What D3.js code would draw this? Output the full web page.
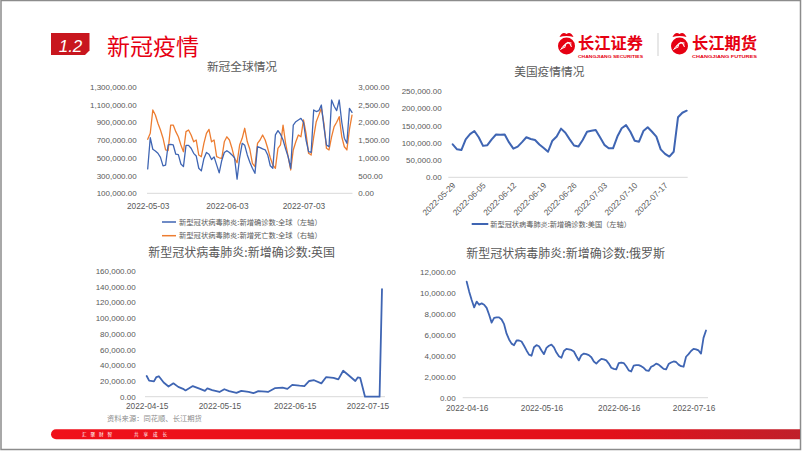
<!DOCTYPE html>
<html><head><meta charset="utf-8">
<script src="https://cdn.jsdelivr.net/npm/d3@7"></script>
<style>body{margin:0;background:#fff}svg{display:block}text{font-family:"Noto Sans CJK SC","Noto Sans",sans-serif}</style>
</head><body><svg id="c" width="802" height="451"></svg>
<script>
// ---------- DATA ----------
const globalStart = "2022-05-03", globalEnd = "2022-07-22";
const globalCases = [374,726,596,577,551,505,408,416,644,650,644,540,535,430,400,640,640,607,550,520,382,352,490,560,540,480,510,420,330,470,560,580,560,532,500,259,500,663,640,532,450,382,325,625,615,600,590,532,410,382,757,805,765,700,600,510,382,868,906,925,944,900,700,569,560,1038,1020,1030,1094,850,644,625,1150,1080,1030,1150,900,720,663,1057,1011].map(v => v * 1000);
const globalDeaths = [1520,1690,2344,2203,1970,1780,1550,1220,1200,1920,1920,1735,1590,1360,1170,1735,1780,1640,1450,1500,1077,1030,1407,1688,1800,1450,1500,1030,1000,985,1450,1590,1500,1266,985,860,1360,1548,1830,1450,1238,844,750,1407,1500,1640,1500,1266,1000,796,703,1266,1360,1920,1407,1030,656,1220,1450,1640,1590,2063,1688,1125,1077,1590,2015,2200,2392,1970,1266,1220,1590,1875,2000,2156,1590,1310,1220,1800,2200];
const globalXTicks = ["2022-05-03","2022-06-03","2022-07-03"];
const globalLeftTicks = [100000,300000,500000,700000,900000,1100000,1300000];
const globalRightTicks = [0,500,1000,1500,2000,2500,3000];
const globalLegend = ["新型冠状病毒肺炎:新增确诊数:全球（左轴）","新型冠状病毒肺炎:新增死亡数:全球（右轴）"];

const usStart = "2022-05-29", usEnd = "2022-07-22";
const usCases = [95.5,81,79,110,125,134,116,91,93,110,124,123,124,101,83,89,102,116,111,108,95,85,74,106,118,141,129,110,92,89,108,132,135,137,116,94,84,84,118,142,151,132,106,103,134,145,132,118,81,68,60,74,174,187,193].map(v => v * 1000);
const usXTicks = ["2022-05-29","2022-06-05","2022-06-12","2022-06-19","2022-06-26","2022-07-03","2022-07-10","2022-07-17"];
const usYTicks = [0,50000,100000,150000,200000,250000];
const usLegend = "新型冠状病毒肺炎:新增确诊数:美国（左轴）";

const ukDates = ["2022-04-15","2022-04-16","2022-04-18","2022-04-19","2022-04-20","2022-04-22","2022-04-24","2022-04-26","2022-04-28","2022-04-30","2022-05-01","2022-05-04","2022-05-07","2022-05-09","2022-05-10","2022-05-12","2022-05-15","2022-05-17","2022-05-19","2022-05-22","2022-05-24","2022-05-27","2022-05-29","2022-05-31","2022-06-03","2022-06-04","2022-06-07","2022-06-10","2022-06-12","2022-06-14","2022-06-17","2022-06-19","2022-06-21","2022-06-23","2022-06-26","2022-06-28","2022-07-01","2022-07-03","2022-07-05","2022-07-07","2022-07-10","2022-07-11","2022-07-12","2022-07-13","2022-07-14","2022-07-20","2022-07-21"];
const ukCases = [26300,20400,19500,25000,26000,18000,13000,17000,12500,10000,8000,13500,10000,7500,10500,8500,6000,9500,7000,4800,7500,6000,4500,7000,6500,6000,11000,11500,10000,15000,14000,13500,20000,21000,17000,25000,24000,22000,33000,28000,20000,24500,24000,12000,0,0,137000];
const ukXTicks = ["2022-04-15","2022-05-15","2022-06-15","2022-07-15"];
const ukYTicks = [0,20000,40000,60000,80000,100000,120000,140000,160000];
const ukTitle = "新型冠状病毒肺炎:新增确诊数:英国";

const ruStart = "2022-04-16", ruEnd = "2022-07-21";
const ruCases = [11050,10100,9300,8600,9150,8850,8980,8850,8550,7900,7150,7600,7650,7650,7450,7000,6100,5550,5150,5000,5450,5450,5350,4950,4500,4100,4000,4800,5000,4900,4500,4150,4750,4950,5050,4800,4300,3950,3800,4450,4650,4600,4550,4400,3950,3550,4050,4200,4150,4050,3850,3450,3250,3500,3700,3650,3550,3250,2850,2750,2700,3300,3350,3300,3000,2600,2500,3050,3100,3100,3000,2850,2600,2550,2950,3050,3250,3150,2950,2750,2700,3200,3350,3450,3400,3150,3000,2950,3900,4150,4450,4650,4600,4500,4200,5700,6400];
const ruXTicks = ["2022-04-16","2022-05-16","2022-06-16","2022-07-16"];
const ruYTicks = [0,2000,4000,6000,8000,10000,12000];
const ruTitle = "新型冠状病毒肺炎:新增确诊数:俄罗斯";

// ---------- HELPERS ----------
const svg = d3.select("#c");
const parse = d3.utcParse("%Y-%m-%d");
const fmt = d3.format(",.2f");
const GRAY = "#595959", AXC = "#d9d9d9", BLUE = "#3f65b3", ORANGE = "#ed7d31", RED = "#e60012";
const NUMFONT = "'Liberation Sans',Arial,sans-serif";
const daily = (s, e) => d3.utcDay.range(parse(s), d3.utcDay.offset(parse(e), 1));

function styleAxis(g, size) {
  g.select(".domain").remove();
  g.attr("font-family", null).attr("font-size", null);
  g.selectAll("text").attr("fill", GRAY).style("font-size", size + "px").style("font-family", NUMFONT);
}
function yAxisLeft(x0, y, ticks) {
  svg.append("g").attr("transform", `translate(${x0},0)`)
    .call(d3.axisLeft(y).tickValues(ticks).tickSize(0).tickPadding(11).tickFormat(fmt))
    .call(g => styleAxis(g, 8));
}
function xAxisBottom(y0, x, ticks, pad) {
  svg.append("g").attr("transform", `translate(0,${y0})`)
    .call(d3.axisBottom(x).tickValues(ticks.map(parse)).tickSize(0).tickPadding(pad).tickFormat(d3.utcFormat("%Y-%m-%d")))
    .call(g => styleAxis(g, 8.3));
}
function baseLine(x1, x2, y) {
  svg.append("line").attr("x1", x1).attr("x2", x2).attr("y1", y).attr("y2", y).attr("stroke", AXC).attr("stroke-width", 1);
}
function title(txt, cx, y, size) {
  svg.append("text").attr("x", cx).attr("y", y).attr("text-anchor", "middle").attr("fill", GRAY).style("font-size", size + "px").text(txt);
}
function drawLine(dates, vals, x, y, color, w) {
  svg.append("path").datum(vals.map((v, i) => [dates[i], v]))
    .attr("fill", "none").attr("stroke", color).attr("stroke-width", w)
    .attr("stroke-linejoin", "round").attr("stroke-linecap", "round")
    .attr("d", d3.line().x(d => x(d[0])).y(d => y(d[1])));
}

// ---------- FRAME & HEADER ----------
svg.append("rect").attr("x", 1).attr("y", 0.5).attr("width", 799.5).attr("height", 449).attr("fill", "#fff").attr("stroke", "#8c8c8c").attr("stroke-width", 1.5);
svg.append("path").attr("d", "M51,33H89.5V50.5L85,55H51Z").attr("fill", "#c8161e");
svg.append("text").attr("x", 70.5).attr("y", 51.5).attr("text-anchor", "middle").attr("fill", "#fff")
  .style("font-family", NUMFONT).style("font-style", "italic").style("font-size", "17px").text("1.2");
svg.append("text").attr("x", 107).attr("y", 54.5).attr("fill", RED).style("font-size", "23px").text("新冠疫情");

function logo(cx, tx, name, en) {
  const g = svg.append("g");
  g.append("path").attr("d", `M${cx-7},37 Q${cx-4},31 ${cx},34 Q${cx+4},31 ${cx+7},37 Q${cx},35 ${cx-7},37Z`).attr("fill", RED);
  g.append("circle").attr("cx", cx).attr("cy", 46).attr("r", 8.5).attr("fill", RED);
  [0, 1, 2].forEach(k => g.append("path")
    .attr("d", `M${cx-6+k*2},${50-k} Q${cx-1+k},${41-k*2} ${cx+5},${43+k*2}`)
    .attr("fill", "none").attr("stroke", "#fff").attr("stroke-width", 1));
  g.append("text").attr("x", tx).attr("y", 49.3).attr("fill", RED).style("font-size", "15.8px").style("font-weight", "bold")
    .attr("textLength", 65).attr("lengthAdjust", "spacingAndGlyphs").text(name);
  g.append("text").attr("x", tx).attr("y", 57.6).attr("fill", RED).style("font-size", "4.3px").style("font-weight", "bold")
    .style("font-family", NUMFONT).attr("textLength", 65).attr("lengthAdjust", "spacingAndGlyphs").text(en);
}
logo(566.5, 578, "长江证券", "CHANGJIANG SECURITIES");
svg.append("line").attr("x1", 658).attr("x2", 658).attr("y1", 33).attr("y2", 56).attr("stroke", "#cfcfcf");
logo(679.5, 692, "长江期货", "CHANGJIANG FUTURES");

// ---------- GLOBAL ----------
{
  const dates = daily(globalStart, globalEnd);
  const x = d3.scaleUtc().domain([parse(globalStart), parse(globalEnd)]).range([147.7, 352]);
  const yL = d3.scaleLinear().domain([100000, 1300000]).range([193.3, 86.7]);
  const yR = d3.scaleLinear().domain([0, 3000]).range([193.3, 86.7]);
  title("新冠全球情况", 242, 71, 11.7);
  yAxisLeft(147.7, yL, globalLeftTicks);
  svg.append("g").attr("transform", "translate(352,0)")
    .call(d3.axisRight(yR).tickValues(globalRightTicks).tickSize(0).tickPadding(6.3).tickFormat(fmt))
    .call(g => styleAxis(g, 8));
  baseLine(147, 352.5, 193.3);
  xAxisBottom(193.3, x, globalXTicks, 9.4);
  drawLine(dates, globalDeaths, x, yR, ORANGE, 1.3);
  drawLine(dates, globalCases, x, yL, BLUE, 1.3);
  [[BLUE, 222], [ORANGE, 235.7]].forEach(([c, yy], i) => {
    svg.append("line").attr("x1", 162).attr("x2", 176).attr("y1", yy).attr("y2", yy).attr("stroke", c).attr("stroke-width", 1.5);
    svg.append("text").attr("x", 179).attr("y", yy + 2.6).attr("fill", GRAY).style("font-size", "7.3px").text(globalLegend[i]);
  });
}

// ---------- US ----------
{
  const dates = daily(usStart, usEnd);
  const x = d3.scaleUtc().domain([parse(usStart), parse(usEnd)]).range([452.7, 686.7]);
  const y = d3.scaleLinear().domain([0, 250000]).range([177.3, 91]);
  title("美国疫情情况", 549.3, 76.3, 11.7);
  yAxisLeft(452.7, y, usYTicks);
  baseLine(448.3, 687.7, 177.3);
  svg.append("g").selectAll("text").data(usXTicks).join("text")
    .attr("transform", d => `translate(${x(parse(d)) + 3.3},186) rotate(-45)`)
    .attr("text-anchor", "end").attr("fill", GRAY).style("font-size", "8.3px").style("font-family", NUMFONT).text(d => d);
  drawLine(dates, usCases, x, y, BLUE, 2);
  svg.append("line").attr("x1", 471.7).attr("x2", 488.3).attr("y1", 224).attr("y2", 224).attr("stroke", BLUE).attr("stroke-width", 2);
  svg.append("text").attr("x", 490.3).attr("y", 226.6).attr("fill", GRAY).style("font-size", "7.2px").text(usLegend);
}

// ---------- UK ----------
{
  const dates = ukDates.map(parse);
  const x = d3.scaleUtc().domain([parse("2022-04-15"), parse("2022-07-21")]).range([146.7, 382]);
  const y = d3.scaleLinear().domain([0, 160000]).range([396.7, 271]);
  title(ukTitle, 241.7, 256.5, 12);
  yAxisLeft(146.7, y, ukYTicks);
  baseLine(145, 385, 396.7);
  xAxisBottom(396.7, x, ukXTicks, 6.6);
  drawLine(dates, ukCases, x, y, BLUE, 1.8);
}

// ---------- RUSSIA ----------
{
  const dates = daily(ruStart, ruEnd);
  const x = d3.scaleUtc().domain([parse(ruStart), parse(ruEnd)]).range([466.7, 706]);
  const y = d3.scaleLinear().domain([0, 12000]).range([397.7, 271.7]);
  title(ruTitle, 565.7, 257.5, 12);
  yAxisLeft(466.7, y, ruYTicks);
  baseLine(462.7, 708, 397.7);
  xAxisBottom(397.7, x, ruXTicks, 7.7);
  drawLine(dates, ruCases, x, y, BLUE, 1.8);
}

// ---------- FOOTER ----------
svg.append("text").attr("x", 107).attr("y", 421).attr("fill", "#8c8c8c").style("font-size", "7.3px").text("资料来源：同花顺、长江期货");
const grad = svg.append("defs").append("linearGradient").attr("id", "bar").attr("x1", 0).attr("x2", 1);
grad.append("stop").attr("offset", 0).attr("stop-color", "#f0101a");
grad.append("stop").attr("offset", 0.75).attr("stop-color", "#e2101a");
grad.append("stop").attr("offset", 1).attr("stop-color", "#c0202a");
svg.append("path").attr("d", "M56,429.3H800V439.3H56A5,5 0 0 1 56,429.3Z").attr("fill", "url(#bar)");
svg.append("text").attr("x", 82).attr("y", 436).attr("fill", "#fff").style("font-size", "4.6px").attr("textLength", 30).attr("lengthAdjust", "spacing").text("汇聚财智");
svg.append("text").attr("x", 134).attr("y", 436).attr("fill", "#fff").style("font-size", "4.6px").attr("textLength", 33).attr("lengthAdjust", "spacing").text("共享成长");
</script></body></html>
